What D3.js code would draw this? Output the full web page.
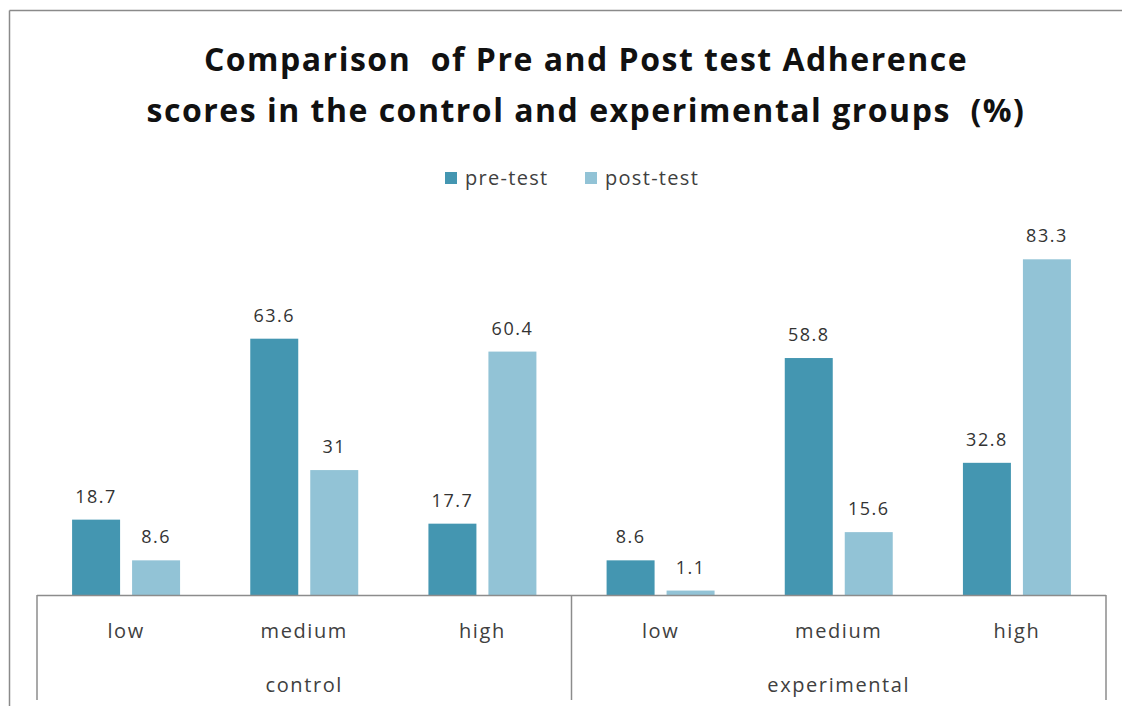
<!DOCTYPE html>
<html><head><meta charset="utf-8">
<script src="https://cdn.jsdelivr.net/npm/d3@7"></script>
<style>html,body{margin:0;padding:0;background:#fff;}svg{display:block;}</style>
</head><body>
<svg id="chart" width="1122" height="706"></svg>
<script>
const groups = ["control", "experimental"];
const categories = ["low", "medium", "high"];
const seriesNames = ["pre-test", "post-test"];
const preTest = [18.7, 63.6, 17.7, 8.6, 58.8, 32.8];
const postTest = [8.6, 31, 60.4, 1.1, 15.6, 83.3];
const titleLines = ["Comparison  of Pre and Post test Adherence", "scores in the control and experimental groups  (%)"];

const colors = {"pre-test": "#4496b1", "post-test": "#92c3d6"};
const svg = d3.select("#chart");
const W = 1122, H = 706;
const font = "'Open Sans', 'DejaVu Sans', sans-serif";

// frame
svg.append("line").attr("x1", 9.5).attr("x2", W).attr("y1", 10.5).attr("y2", 10.5).attr("stroke", "#8a8a8a").attr("stroke-width", 1.5);
svg.append("line").attr("x1", 9.5).attr("x2", 9.5).attr("y1", 10.5).attr("y2", H).attr("stroke", "#8a8a8a").attr("stroke-width", 1.5);

// title
const titleY = [71, 122];
titleLines.forEach((t, i) => {
  svg.append("text").attr("x", 586).attr("y", titleY[i]).attr("text-anchor", "middle")
    .attr("font-family", font).attr("font-weight", "bold").attr("font-size", 32).attr("fill", "#111")
    .attr("letter-spacing", 1.5)
    .style("white-space", "pre").text(t);
});

// scales
const axisY = 595;
const xGroup = d3.scaleBand().domain(groups).range([37, 1106]).padding(0);
const xCat = d3.scaleBand().domain(categories).range([0, xGroup.bandwidth()]).padding(0);
const xSer = d3.scaleBand().domain(seriesNames).range([0, xCat.bandwidth()]).paddingInner(0.2).paddingOuter(0.585);
const y = d3.scaleLinear().domain([0, 90]).range([axisY, axisY - 90 * 4.03]);

const data = [];
groups.forEach((g, gi) => categories.forEach((c, ci) => {
  const idx = gi * categories.length + ci;
  data.push({g, c, s: "pre-test", v: preTest[idx]});
  data.push({g, c, s: "post-test", v: postTest[idx]});
}));

const xPos = d => xGroup(d.g) + xCat(d.c) + xSer(d.s);

svg.append("g").selectAll("rect").data(data).join("rect")
  .attr("x", xPos).attr("width", xSer.bandwidth())
  .attr("y", d => y(d.v)).attr("height", d => axisY - y(d.v))
  .attr("fill", d => colors[d.s]);

svg.append("g").selectAll("text").data(data).join("text")
  .attr("x", d => xPos(d) + xSer.bandwidth() / 2)
  .attr("y", d => y(d.v) - 17)
  .attr("text-anchor", "middle").attr("font-family", font).attr("font-size", 18)
  .attr("letter-spacing", 1.5).attr("fill", "#333")
  .text(d => d.v);

// axis
const axisColor = "#8c8c8c";
svg.append("line").attr("x1", 37).attr("x2", 1106).attr("y1", axisY + 0.5).attr("y2", axisY + 0.5).attr("stroke", axisColor).attr("stroke-width", 1.5);
const seps = [37, ...groups.map(g => xGroup(g) + xGroup.bandwidth())];
svg.append("g").selectAll("line").data(seps).join("line")
  .attr("x1", d => d).attr("x2", d => d).attr("y1", axisY).attr("y2", 700)
  .attr("stroke", axisColor).attr("stroke-width", 1.5);

const catLabels = [];
groups.forEach(g => categories.forEach(c => catLabels.push({g, c})));
svg.append("g").selectAll("text").data(catLabels).join("text")
  .attr("x", d => xGroup(d.g) + xCat(d.c) + xCat.bandwidth() / 2)
  .attr("y", 638).attr("text-anchor", "middle").attr("font-family", font).attr("font-size", 20)
  .attr("letter-spacing", 1.6).attr("fill", "#404040").text(d => d.c);

svg.append("g").selectAll("text").data(groups).join("text")
  .attr("x", d => xGroup(d) + xGroup.bandwidth() / 2)
  .attr("y", 692).attr("text-anchor", "middle").attr("font-family", font).attr("font-size", 20)
  .attr("letter-spacing", 1.6).attr("fill", "#404040").text(d => d);

// legend
const legX = [445, 585];
const leg = svg.append("g").selectAll("g").data(seriesNames).join("g")
  .attr("transform", (d, i) => `translate(${legX[i]},0)`);
leg.append("rect").attr("x", 0).attr("y", 172).attr("width", 12).attr("height", 12).attr("fill", d => colors[d]);
leg.append("text").attr("x", 20).attr("y", 185).attr("font-family", font).attr("font-size", 20)
  .attr("letter-spacing", 1.3).attr("fill", "#404040").text(d => d);
</script>
</body></html>
